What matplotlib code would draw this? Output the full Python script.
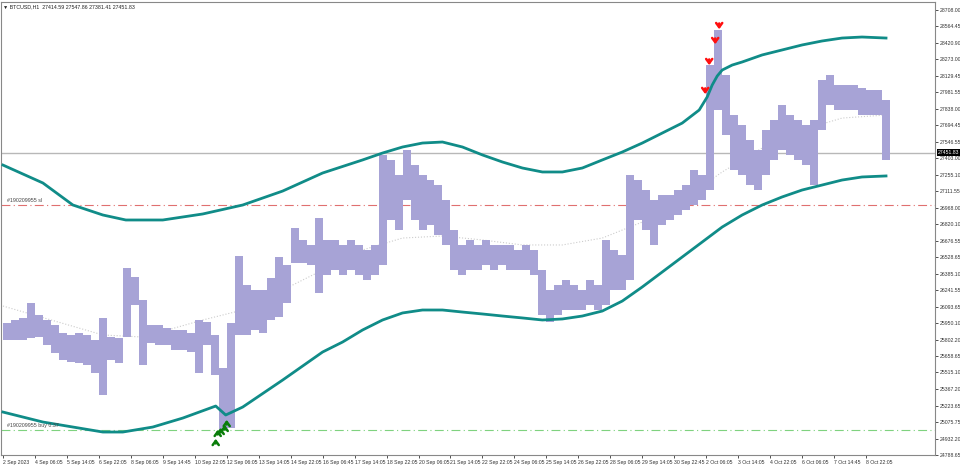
import numpy as np
import matplotlib
matplotlib.use("Agg")
import matplotlib.pyplot as plt
import matplotlib.transforms as mtransforms

# hourly bars grouped in 8-bar buckets (bar index of bucket start)
bucket_x = list(range(0, 888, 8))
bar_hi = [25950, 25977, 25995, 26127, 26021, 25977, 25933, 25862, 25845, 25862,
          25845, 25801, 25995, 25827, 25818, 26435, 26356, 26153, 25933, 25933,
          25906, 25889, 25889, 25862, 25977, 25959, 25845, 25554, 25950, 26541,
          26285, 26241, 26241, 26347, 26532, 26461, 26788, 26682, 26638, 26876,
          26682, 26682, 26638, 26682, 26638, 26594, 26638, 27431, 27387, 27254,
          27475, 27342, 27254, 27210, 27166, 27034, 26770, 26638, 26682, 26638,
          26682, 26638, 26638, 26638, 26594, 26638, 26594, 26417, 26241, 26285,
          26329, 26285, 26241, 26329, 26285, 26682, 26594, 26550, 27254, 27210,
          27122, 27034, 27078, 27078, 27122, 27166, 27298, 27254, 28223, 28532,
          28135, 27783, 27695, 27563, 27475, 27651, 27739, 27871, 27783, 27739,
          27695, 27739, 28091, 28135, 28047, 28047, 28047, 28021, 28003, 28003,
          27915]
bar_lo = [25801, 25801, 25801, 25818, 25827, 25757, 25686, 25625, 25607, 25598,
          25580, 25510, 25316, 25625, 25598, 25827, 26109, 25580, 25774, 25757,
          25757, 25713, 25713, 25695, 25510, 25757, 25492, 25008, 25025, 25845,
          25845, 25889, 25862, 25977, 26003, 26127, 26479, 26479, 26461, 26215,
          26374, 26417, 26374, 26417, 26374, 26329, 26374, 26461, 26858, 26770,
          27034, 26858, 26770, 26814, 26726, 26638, 26417, 26374, 26417, 26417,
          26461, 26417, 26461, 26417, 26417, 26417, 26374, 26021, 25959, 26021,
          26065, 26065, 26065, 26109, 26065, 26109, 26241, 26241, 26329, 26858,
          26770, 26638, 26814, 26858, 26902, 26946, 26990, 27034, 27122, 27827,
          27607, 27298, 27254, 27166, 27122, 27254, 27387, 27475, 27431, 27387,
          27342, 27166, 27651, 27871, 27827, 27827, 27827, 27783, 27783, 27783,
          27387]

# envelope bands
up_x = [0, 40, 70, 100, 123, 160, 200, 240, 280, 320, 360, 380, 400, 420, 440, 460,
        480, 500, 520, 540, 560, 580, 600, 620, 640, 660, 680, 697, 705, 710, 715,
        720, 730, 740, 760, 780, 800, 820, 840, 860, 884]
up_p = [27342, 27184, 26990, 26902, 26858, 26858, 26911, 26990, 27113, 27272, 27387,
        27448, 27501, 27536, 27545, 27501, 27431, 27369, 27316, 27281, 27281, 27316,
        27387, 27457, 27536, 27624, 27712, 27827, 27942, 28047, 28126, 28179, 28223,
        28250, 28312, 28356, 28400, 28435, 28461, 28470, 28461]
lo_x = [0, 40, 100, 120, 150, 180, 213, 223, 240, 280, 320, 340, 360, 380, 400, 420,
        440, 460, 480, 500, 520, 540, 560, 580, 600, 620, 640, 660, 680, 700, 720,
        740, 760, 780, 800, 820, 840, 860, 884]
lo_p = [25166, 25078, 24990, 24990, 25034, 25113, 25219, 25140, 25210, 25448, 25695,
        25783, 25889, 25977, 26039, 26065, 26065, 26047, 26030, 26012, 25995, 25977,
        25986, 26012, 26056, 26144, 26268, 26400, 26532, 26664, 26796, 26902, 26990,
        27061, 27122, 27166, 27210, 27237, 27246]
mid_x = [0, 100, 140, 200, 240, 280, 320, 360, 400, 440, 480, 520, 560, 600, 640, 680,
         720, 760, 800, 840, 884]
mid_p = [26100, 25845, 25827, 25977, 26065, 26241, 26417, 26594, 26699, 26717, 26682,
         26638, 26638, 26699, 26840, 27034, 27281, 27492, 27651, 27756, 27783]

# signal arrows (bar index, tip price)
sell_x = [703, 707, 713, 717]
sell_p = [27942, 28197, 28382, 28514]
buy_x = [213, 215, 218, 222, 224]
buy_p = [24955, 25035, 25052, 25079, 25122]

last_price = 27451.83
sl_price = 26990
buy_price = 25008

price_ticks = [28708.00, 28564.45, 28420.90, 28273.00, 28129.45, 27981.55, 27838.00,
               27694.45, 27546.55, 27403.00, 27255.10, 27111.55, 26968.00, 26820.10,
               26676.55, 26528.65, 26385.10, 26241.55, 26093.65, 25950.10, 25802.20,
               25658.65, 25515.10, 25367.20, 25223.65, 25075.75, 24932.20, 24788.65]
time_labels = ["2 Sep 2023", "4 Sep 06:05", "5 Sep 14:05", "6 Sep 22:05", "8 Sep 06:05",
               "9 Sep 14:45", "10 Sep 22:05", "12 Sep 06:05", "13 Sep 14:05",
               "14 Sep 22:05", "16 Sep 06:45", "17 Sep 14:05", "18 Sep 22:05",
               "20 Sep 06:05", "21 Sep 14:05", "22 Sep 22:05", "24 Sep 06:05",
               "25 Sep 14:05", "26 Sep 22:05", "28 Sep 06:05", "29 Sep 14:05",
               "30 Sep 22:45", "2 Oct 06:05", "3 Oct 14:05", "4 Oct 22:05",
               "6 Oct 06:05", "7 Oct 14:45", "8 Oct 22:05"]
time_pos = [i * 32 for i in range(len(time_labels))]

plt.rcParams["font.family"] = ["Liberation Sans", "DejaVu Sans"]

fig = plt.figure(figsize=(9.6, 4.68), dpi=100)
ax = fig.add_axes([0.001, 1 - 455 / 468, 934 / 960, 453 / 468])
ax.set_xlim(-2, 933)
ax.set_ylim(24787.6, 28778.5)

# price bars
hi = np.array(bar_hi)
lo = np.array(bar_lo)
ax.bar(bucket_x, hi - lo, bottom=lo, width=8, align="edge", color="#a7a3d6",
       edgecolor="none", zorder=2)

# bands
ax.plot(up_x, up_p, color="#108c88", lw=2, zorder=3)
ax.plot(lo_x, lo_p, color="#108c88", lw=2, zorder=3)
ax.plot(mid_x, mid_p, color="#cccccc", lw=0.8, ls=":", zorder=1)

# horizontal lines
ax.axhline(last_price, color="#b8b8b8", lw=1, zorder=1)
ax.axhline(sl_price, color="#e07070", lw=0.8, ls=(0, (8, 3, 1, 3)), zorder=1)
ax.axhline(buy_price, color="#7fd27f", lw=0.8, ls=(0, (8, 3, 1, 3)), zorder=1)
ax.text(4, sl_price + 15, "#190209955 sl", fontsize=3.8, color="#444444", va="bottom")
ax.text(4, buy_price + 15, "#190209955 buy 0.37", fontsize=3.8, color="#444444",
        va="bottom")

# arrows (chevron heads like the terminal's signal arrows)
for x, p in zip(sell_x, sell_p):
    ax.annotate("", xy=(x, p), xytext=(x, p + 100),
                arrowprops=dict(arrowstyle="->,head_length=0.3,head_width=0.22",
                                color="#ff1010", lw=1.8), zorder=5)
for x, p in zip(buy_x, buy_p):
    ax.annotate("", xy=(x, p), xytext=(x, p - 90),
                arrowprops=dict(arrowstyle="->,head_length=0.3,head_width=0.22",
                                color="#0a7d0a", lw=1.8), zorder=5)

# axes
ax.yaxis.tick_right()
ax.set_yticks(price_ticks)
ax.set_yticklabels(["%.2f" % v for v in price_ticks])
ax.set_xticks(time_pos)
ax.set_xticklabels(time_labels, ha="left")
ax.tick_params(axis="both", labelsize=3.7, colors="#333333", length=2.5, width=0.6,
               pad=1)
for s in ax.spines.values():
    s.set_color("#888888")
    s.set_linewidth(0.8)

# price tag
tr = mtransforms.blended_transform_factory(ax.transAxes, ax.transData)
ax.text(1.003, last_price, "%.2f" % last_price, transform=tr, fontsize=3.7,
        color="white", va="center", ha="left",
        bbox=dict(facecolor="black", edgecolor="none", pad=0.6), zorder=6)

fig.text(0.003, 0.985, "\u25bc BTCUSD,H1  27414.59 27547.86 27381.41 27451.83",
         fontsize=3.8, color="#222222", va="center")

fig.savefig("out.png", dpi=100)
